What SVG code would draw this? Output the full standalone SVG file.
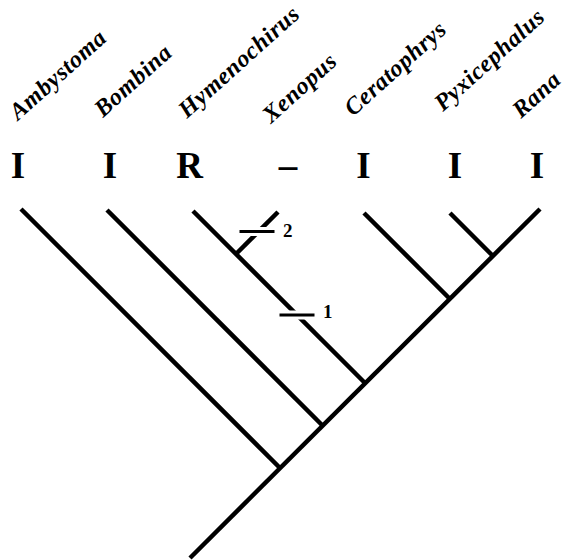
<svg xmlns="http://www.w3.org/2000/svg" width="565" height="560" viewBox="0 0 565 560">
<style>
.br{stroke:#000;stroke-width:4.5;fill:none;stroke-linecap:butt}
.sp{font-family:"Liberation Serif",serif;font-weight:bold;font-style:italic;font-size:24px;letter-spacing:0.6px;fill:#000}
.st{font-family:"Liberation Serif",serif;font-weight:bold;font-size:37px;fill:#000;text-anchor:middle}
.num{font-family:"Liberation Serif",serif;font-weight:bold;font-size:19px;fill:#000}
.bar{fill:#000;stroke:#fff;stroke-width:3}
</style>
<rect width="565" height="560" fill="#fff"/>
<g id="connectors">
<line class="br" x1="540" y1="209" x2="190" y2="558"/>
<line class="br" x1="21" y1="209" x2="280" y2="468"/>
<line class="br" x1="107" y1="210" x2="322.5" y2="425.5"/>
<line class="br" x1="193" y1="211" x2="365" y2="383"/>
<line class="br" x1="278" y1="212" x2="236" y2="254"/>
<line class="br" x1="364" y1="213" x2="449.5" y2="298.5"/>
<line class="br" x1="450" y1="213" x2="492.5" y2="255.5"/>
</g>
<g id="marks">
<rect class="bar" x="238" y="228.5" width="38" height="6"/>
<text class="num" x="283" y="237">2</text>
<rect class="bar" x="278" y="312" width="38" height="6"/>
<text class="num" x="323" y="318">1</text>
</g>
<g id="Ambystoma"><text class="sp" transform="translate(18,121) rotate(-42)">Ambystoma</text><text class="st" x="18" y="178">I</text></g>
<g id="Bombina"><text class="sp" transform="translate(103,118) rotate(-42)">Bombina</text><text class="st" x="110" y="178">I</text></g>
<g id="Hymenochirus"><text class="sp" transform="translate(187,119) rotate(-42)">Hymenochirus</text><text class="st" x="189.5" y="178">R</text></g>
<g id="Xenopus"><text class="sp" transform="translate(271,124) rotate(-42)">Xenopus</text><text class="st" x="288" y="178">–</text></g>
<g id="Ceratophrys"><text class="sp" transform="translate(353,117) rotate(-42)">Ceratophrys</text><text class="st" x="363.5" y="178">I</text></g>
<g id="Pyxicephalus"><text class="sp" transform="translate(443,112) rotate(-42)">Pyxicephalus</text><text class="st" x="455" y="178">I</text></g>
<g id="Rana"><text class="sp" transform="translate(521,119) rotate(-42)">Rana</text><text class="st" x="537" y="178">I</text></g>
</svg>
